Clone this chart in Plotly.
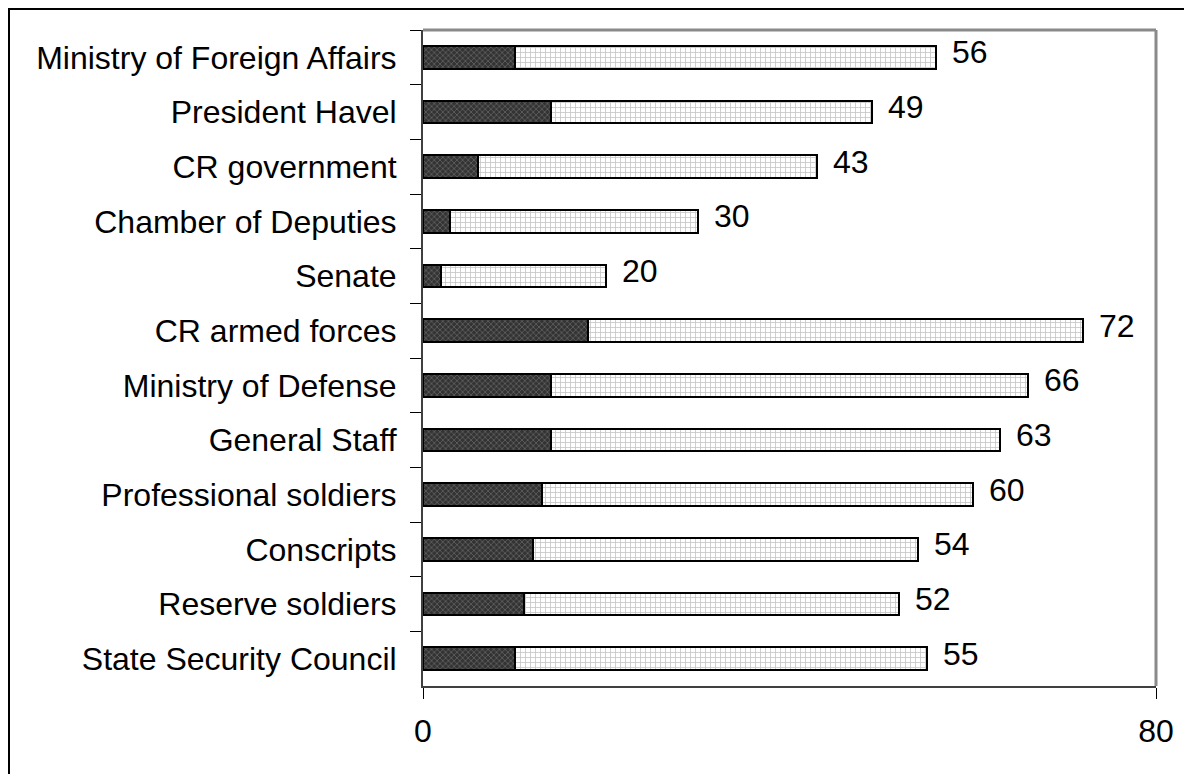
import plotly.graph_objects as go

categories = [
    "Ministry of Foreign Affairs",
    "President Havel",
    "CR government",
    "Chamber of Deputies",
    "Senate",
    "CR armed forces",
    "Ministry of Defense",
    "General Staff",
    "Professional soldiers",
    "Conscripts",
    "Reserve soldiers",
    "State Security Council",
]
dark_values = [10, 14, 6, 3, 2, 18, 14, 14, 13, 12, 11, 10]
totals = [56, 49, 43, 30, 20, 72, 66, 63, 60, 54, 52, 55]
light_values = [t - d for t, d in zip(totals, dark_values)]
x_ticks = [0, 80]

FONT = "Arial, 'Liberation Sans', sans-serif"
# page has an 8px body margin, so the figure is sized/offset to compensate
W, H = 1184, 766
L, R, T, B = 415, 36, 22, 88

fig = go.Figure()
fig.add_trace(go.Bar(
    y=categories, x=dark_values, orientation="h", width=0.41,
    marker=dict(
        color="#3a3a3a",
        line=dict(color="black", width=2),
        pattern=dict(shape="x", bgcolor="#333333", fgcolor="#a8a8a8",
                     size=4, solidity=0.3, fillmode="overlay"),
    ),
    showlegend=False, hoverinfo="skip",
))
fig.add_trace(go.Bar(
    y=categories, x=light_values, orientation="h", width=0.41,
    marker=dict(
        color="white",
        line=dict(color="black", width=2),
        pattern=dict(shape="+", bgcolor="white", fgcolor="#8a8a8a",
                     size=5, solidity=0.3, fillmode="overlay"),
    ),
    showlegend=False, hoverinfo="skip",
))

for c, t in zip(categories, totals):
    fig.add_annotation(x=t, y=c, text=str(t), showarrow=False,
                       xanchor="left", yanchor="middle", xshift=14, yshift=5,
                       font=dict(family=FONT, size=32, color="black"))

pw = W - L - R
ph = H - T - B
# outer chart frame (only left and top edges fall inside the picture)
fig.add_shape(type="rect", xref="paper", yref="paper",
              x0=(1 - L) / pw, x1=(W + 30 - L) / pw,
              y0=-(H + 30 - T - ph) / ph, y1=(H - B - 1) / ph,
              line=dict(color="black", width=2), fillcolor="rgba(0,0,0,0)", layer="below")
# plot-area border (top and right), gray
fig.add_shape(type="line", xref="paper", yref="paper", x0=0, x1=1, y0=1, y1=1,
              line=dict(color="#8a8a8a", width=3))
fig.add_shape(type="line", xref="paper", yref="paper", x0=1, x1=1, y0=0, y1=1,
              line=dict(color="#8a8a8a", width=3))

fig.update_layout(
    width=W, height=H,
    margin=dict(l=L, r=R, t=T, b=B, autoexpand=False),
    barmode="stack",
    plot_bgcolor="white", paper_bgcolor="white",
    font=dict(family=FONT, size=32, color="black"),
    showlegend=False,
    xaxis=dict(
        range=[0, 80], tickvals=x_ticks, ticktext=[str(v) for v in x_ticks],
        showgrid=False, zeroline=False,
        showline=True, linecolor="#404040", linewidth=2,
        ticks="outside", ticklen=11, tickwidth=1, tickcolor="black",
        ticklabelstandoff=5,
        tickfont=dict(family=FONT, size=32, color="black"),
    ),
    yaxis=dict(
        autorange="reversed", type="category",
        showgrid=False, zeroline=False,
        showline=True, linecolor="#404040", linewidth=2,
        ticks="outside", ticklen=11, tickwidth=1, tickcolor="black",
        tickson="boundaries",
        ticklabelstandoff=18,
        tickfont=dict(family=FONT, size=32, color="black"),
    ),
)

fig.write_html("out.html")
